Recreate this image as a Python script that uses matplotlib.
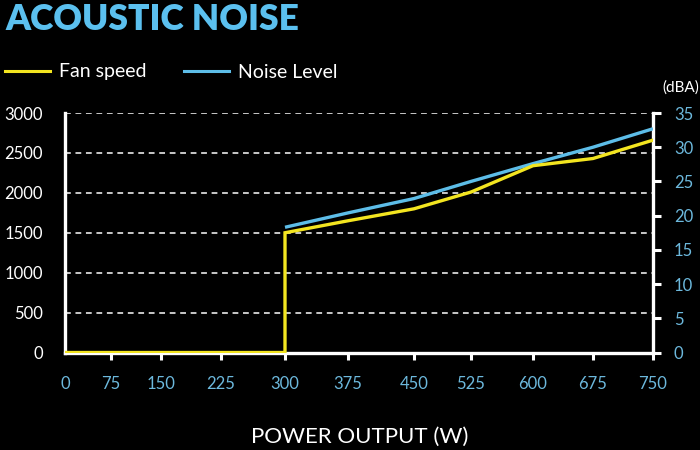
import numpy as np
import matplotlib
matplotlib.use("Agg")
import matplotlib.pyplot as plt
from matplotlib.lines import Line2D

# ---- data ----
power_ticks = [0, 75, 150, 225, 300, 375, 450, 525, 600, 675, 750]
fan_power = [0, 75, 150, 225, 300, 300, 375, 450, 525, 600, 675, 750]
fan_rpm = [0, 0, 0, 0, 0, 1500, 1650, 1800, 2010, 2340, 2430, 2660]
noise_power = [300, 375, 450, 525, 600, 675, 750]
noise_dba = [18.3, 20.4, 22.5, 25.0, 27.6, 30.0, 32.7]
rpm_ticks = [0, 500, 1000, 1500, 2000, 2500, 3000]
dba_ticks = [0, 5, 10, 15, 20, 25, 30, 35]

# uneven spacing of the power axis as drawn in the reference (relative positions)
tick_pos = [0, 46, 96, 156, 220, 283, 349, 406, 468, 528, 588]

BG = "black"
YELLOW = "#f3e520"
BLUE = "#5dbde8"
LBLUE = "#6cb8dc"
WHITE = "white"
FONT = "Lato"

plt.rcParams["font.family"] = [FONT, "DejaVu Sans"]

fig = plt.figure(figsize=(7, 4.5), dpi=100, facecolor=BG)
ax = fig.add_axes([65 / 700, 1 - 352.5 / 450, 588 / 700, 239.5 / 450])
ax.set_facecolor(BG)

fwd = lambda x: np.interp(x, power_ticks, tick_pos)
inv = lambda y: np.interp(y, tick_pos, power_ticks)
ax.set_xscale("function", functions=(fwd, inv))
ax.set_xlim(0, 750)
ax.set_ylim(0, 3000)

ax2 = ax.twinx()
ax2.set_ylim(0, 35)

# grid
ax.set_yticks(rpm_ticks)
ax.yaxis.grid(True, color="#d8d8d8", linestyle=(0, (3.2, 2.6)), linewidth=1.3)
ax.set_axisbelow(True)

# lines
ax2.plot(noise_power, noise_dba, color=BLUE, lw=2.4, solid_capstyle="butt", zorder=3)
ax2.plot(fan_power, np.array(fan_rpm) * 35 / 3000, color=YELLOW, lw=2.4,
         solid_joinstyle="miter", zorder=4)

# spines
for a in (ax, ax2):
    a.spines["top"].set_visible(False)
ax.spines["right"].set_visible(False)
ax2.spines["left"].set_visible(False)
ax2.spines["bottom"].set_visible(False)
for s in (ax.spines["left"], ax.spines["bottom"], ax2.spines["right"]):
    s.set_color(WHITE)
    s.set_linewidth(2.4)

# ticks
ax.set_xticks(power_ticks)
ax.set_xticklabels([str(v) for v in power_ticks])
ax.tick_params(axis="x", colors=WHITE, labelcolor=LBLUE, length=5, width=2.2,
               direction="out", pad=12, labelsize=12)
ax.xaxis.get_major_ticks()[0].tick1line.set_visible(False)
ax.tick_params(axis="y", length=0, labelcolor=WHITE, pad=16, labelsize=12)
ax.set_yticklabels([str(v) for v in rpm_ticks])

ax2.set_yticks(dba_ticks)
ax2.set_yticklabels([str(v) for v in dba_ticks])
ax2.tick_params(axis="y", colors=WHITE, labelcolor=LBLUE, length=6, width=2.2,
                pad=9, labelsize=12)

ax.set_xlabel("POWER OUTPUT (W)", color=WHITE, fontsize=16)
ax.xaxis.set_label_coords(0.502, -0.353)
ax.xaxis.label.set_va("center")

fig.text(681 / 700, 1 - 88 / 450, "(dBA)", color=WHITE, fontsize=11,
         ha="center", va="center")

fig.text(5 / 700, 1 - 3 / 450, "ACOUSTIC NOISE", color="#5bc0ef", fontsize=25.5,
         fontweight="heavy", ha="left", va="top")

handles = [Line2D([], [], color=YELLOW, lw=2.2), Line2D([], [], color=BLUE, lw=2.2)]
leg = fig.legend(handles, ["Fan speed", "Noise Level"], ncol=2, frameon=False,
                 loc="center left", bbox_to_anchor=(5 / 700, 1 - 72 / 450),
                 borderaxespad=0, borderpad=0, handlelength=2.3, handletextpad=0.5,
                 columnspacing=1.9, fontsize=14)
for t in leg.get_texts():
    t.set_color(WHITE)

fig.savefig("out.png", dpi=100, facecolor=BG)
